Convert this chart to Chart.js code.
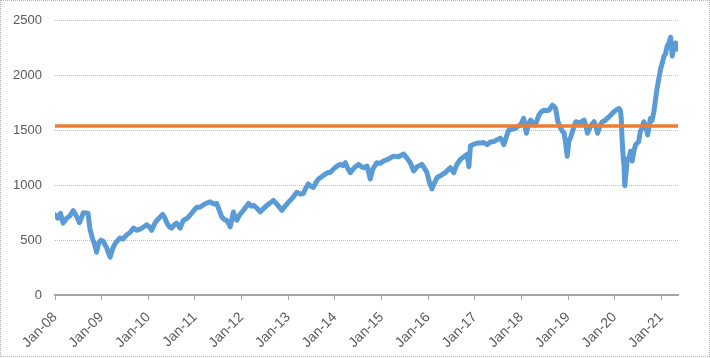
<!DOCTYPE html>
<html>
<head>
<meta charset="utf-8">
<script src="https://cdn.jsdelivr.net/npm/chart.js@4/dist/chart.umd.min.js"></script>
<style>
  html, body { margin: 0; padding: 0; background: #fff; }
  #wrap { position: relative; width: 710px; height: 358px; }
  #c { position: absolute; left: 0; top: 0; }
  #frame { position: absolute; left: 0; top: 0; width: 710px; height: 357px; box-sizing: border-box;
           border: 1px dotted #b0b0b0; pointer-events: none; }
</style>
</head>
<body>
<div id="wrap">
  <canvas id="c" width="710" height="358"></canvas>
  <div id="frame"></div>
</div>
<script>
// Months since Jan-2008 (fractional) and index level
const months = [
  0, 0.7, 1.4, 2.1, 3, 3.8, 4.7, 5.5, 6.3, 7.3, 8.5, 9, 9.6, 10.2, 10.7, 11.2, 11.8, 12.4, 13.3, 13.8,
  14.2, 14.8, 15.5, 16.7, 17.5, 18.5, 19.3, 20.2, 21, 21.9, 22.8, 23.6, 24.3, 24.9, 25.5, 26.2, 27.7, 28.3, 28.8, 29.5,
  30, 30.7, 31.3, 32.2, 33, 34, 34.8, 35.7, 36.5, 37.3, 38.5, 39.9, 40.8, 41.6, 42.3, 42.9, 43.5, 44.2, 44.7, 45.1,
  45.9, 46.4, 46.8, 47.5, 48.5, 49.8, 50.5, 51.1, 52, 52.8, 53.7, 54.5, 55.4, 56.2, 57.3, 58.4, 59.2, 60.1, 61, 62.2,
  63.1, 63.9, 64.6, 65.2, 65.9, 66.5, 67.2, 67.8, 68.7, 69.5, 70.2, 70.8, 71.7, 72.6, 73.4, 74.1, 74.7, 75.4, 76, 77,
  78.1, 78.8, 79.4, 80.3, 80.7, 81.1, 81.8, 82.8, 83.6, 84.5, 85.8, 87.1, 88.4, 89.7, 90.5, 91.4, 92.3, 93.2, 94.4, 95,
  95.7, 96.4, 97, 97.6, 98.3, 99.3, 100.4, 101.1, 101.7, 102.6, 103.4, 104.3, 105.2, 106, 106.5, 106.9, 107.8, 108.7, 109.5, 110.3,
  111.2, 112, 112.9, 113.7, 114.6, 115.1, 115.5, 116.2, 116.8, 117.6, 118.5, 119.2, 119.8, 120.3, 120.6, 121.3, 121.8, 122.4, 123, 123.6,
  124.5, 125.1, 125.8, 126.5, 127.1, 127.6, 128, 128.5, 128.8, 129.4, 130.1, 130.6, 131, 131.4, 131.8, 132.2, 132.7, 133.4, 134, 135,
  136.1, 136.6, 137, 137.8, 138.7, 139.2, 139.6, 140.2, 140.8, 141.5, 142.1, 143, 143.8, 144.5, 145.1, 145.5, 145.7, 145.9, 146.2, 146.4,
  146.6, 146.9, 147.2, 147.7, 148.1, 148.5, 149, 149.4, 150.2, 150.6, 151, 151.5, 152, 152.5, 153.2, 153.6, 154.1, 154.5, 154.9, 155.4,
  155.8, 156.3, 156.7, 157.1, 157.5, 158, 158.4, 158.8, 159.2, 159.7, 160
];
const values = [
  730, 700, 745, 655, 700, 720, 770, 720, 660, 750, 745, 600, 520, 460, 390, 470, 500, 490, 430, 380,
  345, 420, 470, 520, 510, 550, 570, 610, 590, 600, 620, 640, 620, 590, 640, 680, 735, 700, 655, 620,
  610, 640, 655, 610, 680, 700, 730, 770, 800, 800, 830, 850, 830, 835, 770, 712, 690, 680, 650, 622,
  757, 700, 682, 730, 772, 835, 810, 817, 790, 757, 790, 817, 840, 862, 820, 772, 810, 847, 880, 936,
  920, 925, 980, 1012, 990, 981, 1030, 1057, 1080, 1101, 1116, 1116, 1150, 1176, 1191, 1180, 1206, 1150, 1116, 1160,
  1191, 1170, 1161, 1176, 1120, 1057, 1150, 1206, 1200, 1221, 1240, 1266, 1260, 1285, 1250, 1206, 1131, 1170, 1191, 1160,
  1116, 1020, 967, 1020, 1071, 1090, 1116, 1140, 1161, 1116, 1190, 1236, 1260, 1281, 1170, 1360, 1375, 1385, 1385, 1390,
  1371, 1395, 1400, 1415, 1430, 1400, 1371, 1450, 1505, 1510, 1520, 1540, 1550, 1590, 1610, 1475, 1560, 1595, 1570, 1550,
  1640, 1670, 1685, 1680, 1685, 1710, 1730, 1715, 1700, 1580, 1520, 1490, 1475, 1380, 1266, 1400, 1440, 1520, 1580, 1570,
  1595, 1540, 1475, 1540, 1580, 1540, 1475, 1540, 1580, 1590, 1610, 1640, 1670, 1690, 1700, 1680, 1610, 1430, 1250, 1191,
  996, 1100, 1221, 1250, 1311, 1221, 1320, 1371, 1400, 1490, 1520, 1580, 1540, 1460, 1610, 1590, 1670, 1780, 1879, 1980,
  2058, 2120, 2178, 2200, 2268, 2300, 2350, 2178, 2260, 2298, 2240
];
const tickLabels = ['Jan-08','Jan-09','Jan-10','Jan-11','Jan-12','Jan-13','Jan-14','Jan-15','Jan-16','Jan-17','Jan-18','Jan-19','Jan-20','Jan-21'];
const averageLevel = 1540;
const xMax = 160.3;

const seriesPoints = months.map((m, i) => ({ x: m, y: values[i] }));
const avgPoints = [{ x: 0, y: averageLevel }, { x: xMax, y: averageLevel }];

const textColor = '#595959';
const yFont = { family: '"Liberation Sans", Arial, sans-serif', size: 13 };
const xFont = { family: '"Liberation Sans", Arial, sans-serif', size: 14 };

new Chart(document.getElementById('c'), {
  type: 'line',
  data: {
    datasets: [
      { data: avgPoints, borderColor: '#ED7D31', borderWidth: 3.5, pointRadius: 0, tension: 0 },
      { data: seriesPoints, borderColor: '#5B9BD5', borderWidth: 5, pointRadius: 0, tension: 0,
        borderJoinStyle: 'round', borderCapStyle: 'round' }
    ]
  },
  options: {
    responsive: false,
    animation: false,
    events: [],
    layout: { padding: { top: 17, right: 32, bottom: 0, left: 0 } },
    plugins: { legend: { display: false }, tooltip: { enabled: false } },
    scales: {
      x: {
        type: 'linear',
        min: 0,
        max: xMax,
        afterBuildTicks: (scale) => { scale.ticks = tickLabels.map((_, i) => ({ value: i * 12 })); },
        afterFit: (scale) => { scale.height = 63; },
        ticks: {
          autoSkip: false,
          minRotation: 45,
          maxRotation: 45,
          color: textColor,
          font: xFont,
          padding: 9,
          callback: (v) => tickLabels[Math.round(v / 12)]
        },
        grid: { drawOnChartArea: false, drawTicks: true, tickLength: 5, color: '#a6a6a6', lineWidth: 1 },
        border: { display: true, color: '#a6a6a6', width: 2 }
      },
      y: {
        min: 0,
        max: 2500,
        afterFit: (scale) => { scale.width = 55; },
        ticks: { stepSize: 500, color: textColor, font: yFont, padding: 13, callback: (v) => String(v) },
        grid: { drawTicks: false, color: '#bdbdbd', lineWidth: 1 },
        border: { display: false, dash: [1, 1] }
      }
    }
  }
});
</script>
</body>
</html>
